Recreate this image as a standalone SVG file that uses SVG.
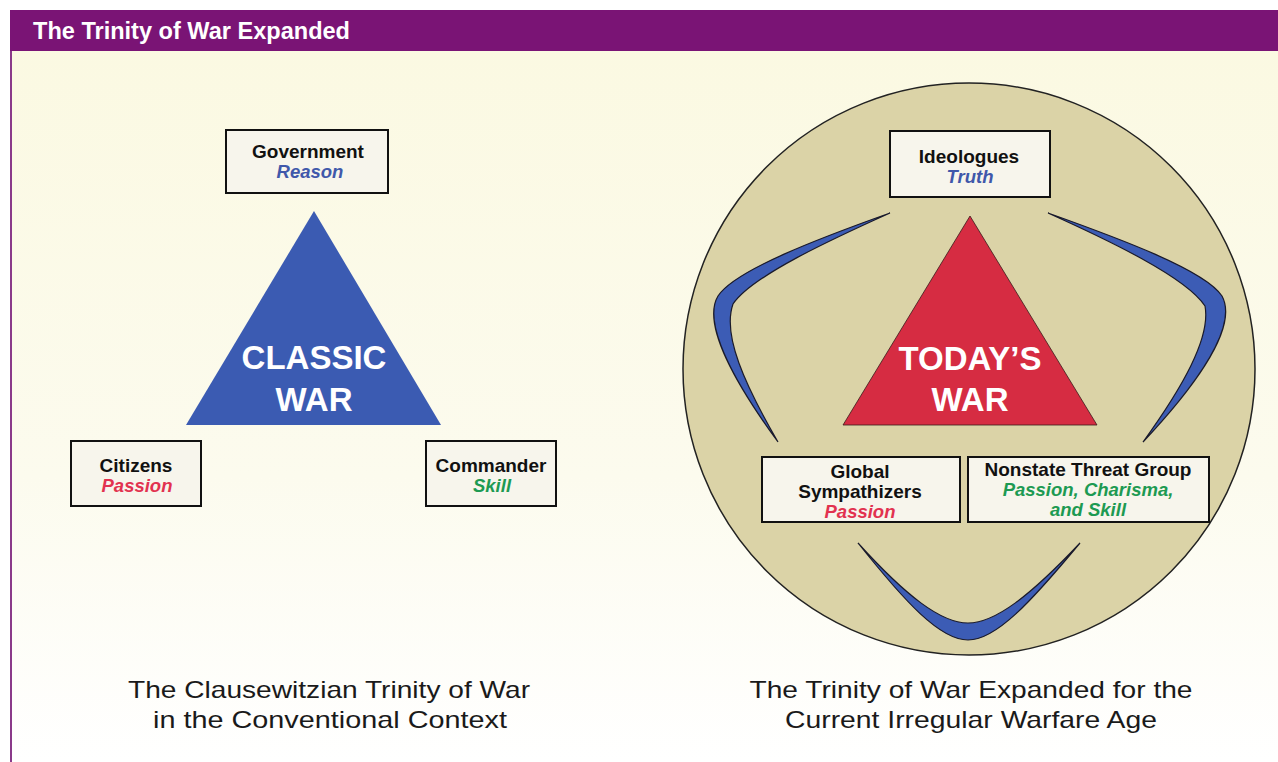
<svg xmlns="http://www.w3.org/2000/svg" width="1278" height="762" viewBox="0 0 1278 762">
<defs>
<linearGradient id="bg" x1="0" y1="0" x2="0" y2="1">
<stop offset="0" stop-color="#fbf9e2"/>
<stop offset="0.6" stop-color="#fcfbee"/>
<stop offset="1" stop-color="#ffffff"/>
</linearGradient>
<style>
.box{fill:#f7f5ec;stroke:#111;stroke-width:2}
.lbl{font-family:"Liberation Sans",Arial,sans-serif;font-weight:bold;font-size:19px;fill:#111;text-anchor:middle}
.sub{font-family:"Liberation Sans",Arial,sans-serif;font-weight:bold;font-style:italic;font-size:18.5px;text-anchor:middle}
.blue{fill:#4058aa}
.red{fill:#e2324f}
.green{fill:#1d9a52}
.big{font-family:"Liberation Sans",Arial,sans-serif;font-weight:bold;font-size:33px;fill:#fff;text-anchor:middle}
.cap{font-family:"Liberation Sans",Arial,sans-serif;font-size:24px;fill:#1a1a1a;text-anchor:middle}
.boom{fill:#3c5cb5;stroke:#1a1a2a;stroke-width:1.2}
</style>
</defs>
<rect x="0" y="0" width="1278" height="762" fill="#ffffff"/>
<rect x="11" y="51" width="1267" height="711" fill="url(#bg)"/>
<line x1="11" y1="51" x2="11" y2="762" stroke="#8a3a8a" stroke-width="2"/>
<g id="header">
<rect x="10" y="10" width="1268" height="41" fill="#7a1475"/>
<text x="33" y="39" font-family="Liberation Sans,Arial,sans-serif" font-weight="bold" font-size="23" fill="#ffffff" textLength="317" lengthAdjust="spacingAndGlyphs">The Trinity of War Expanded</text>
</g>

<g id="classic-war">
<polygon points="314,211 441,425 186,425" fill="#3b5bb2"/>
<text class="big" x="314" y="369">CLASSIC</text>
<text class="big" x="314" y="411">WAR</text>
</g>
<g id="government">
<rect class="box" x="226" y="130" width="162" height="63"/>
<text class="lbl" x="308" y="158">Government</text>
<text class="sub blue" x="310" y="178">Reason</text>
</g>
<g id="citizens">
<rect class="box" x="71" y="441" width="130" height="65"/>
<text class="lbl" x="136" y="472">Citizens</text>
<text class="sub red" x="137" y="492">Passion</text>
</g>
<g id="commander">
<rect class="box" x="426" y="441" width="130" height="65"/>
<text class="lbl" x="491" y="472">Commander</text>
<text class="sub green" x="492" y="492">Skill</text>
</g>

<g id="circle">
<circle cx="969" cy="369" r="286" fill="#dbd3a7" stroke="#222" stroke-width="1.5"/>
</g>
<g id="connectors">
<path class="boom" d="M890,213 C820,238 735,270 718,296 C706,316 718,360 778,442 C745,385 722,335 733,304 C752,276 830,240 890,213 Z"/>
<path class="boom" d="M1048,213 C1118,238 1205,270 1222,296 C1234,318 1218,362 1143,442 C1182,388 1211,338 1205,306 C1186,277 1108,240 1048,213 Z"/>
<path class="boom" d="M858,543 C905,602 940,640 968,640 C996,640 1031,602 1080,543 C1030,596 995,623 968,623 C941,623 906,596 858,543 Z"/>
</g>
<g id="todays-war">
<polygon points="970,216 1097,425 843,425" fill="#d62c42" stroke="#3a1a1a" stroke-width="0.8"/>
<text class="big" x="970" y="370">TODAY’S</text>
<text class="big" x="970" y="411">WAR</text>
</g>
<g id="ideologues">
<rect class="box" x="890" y="131" width="160" height="66"/>
<text class="lbl" x="969" y="163">Ideologues</text>
<text class="sub blue" x="970" y="183">Truth</text>
</g>
<g id="global-sympathizers">
<rect class="box" x="762" y="457" width="198" height="65"/>
<text class="lbl" x="860" y="478">Global</text>
<text class="lbl" x="860" y="498">Sympathizers</text>
<text class="sub red" x="860" y="518">Passion</text>
</g>
<g id="nonstate">
<rect class="box" x="968" y="457" width="241" height="65"/>
<text class="lbl" x="1088" y="476">Nonstate Threat Group</text>
<text class="sub green" x="1088" y="496">Passion, Charisma,</text>
<text class="sub green" x="1088" y="516">and Skill</text>
</g>

<g id="captions">
<text class="cap" x="329" y="698" textLength="402" lengthAdjust="spacingAndGlyphs">The Clausewitzian Trinity of War</text>
<text class="cap" x="330" y="728" textLength="354" lengthAdjust="spacingAndGlyphs">in the Conventional Context</text>
<text class="cap" x="971" y="698" textLength="443" lengthAdjust="spacingAndGlyphs">The Trinity of War Expanded for the</text>
<text class="cap" x="971" y="728" textLength="372" lengthAdjust="spacingAndGlyphs">Current Irregular Warfare Age</text>
</g>
</svg>
